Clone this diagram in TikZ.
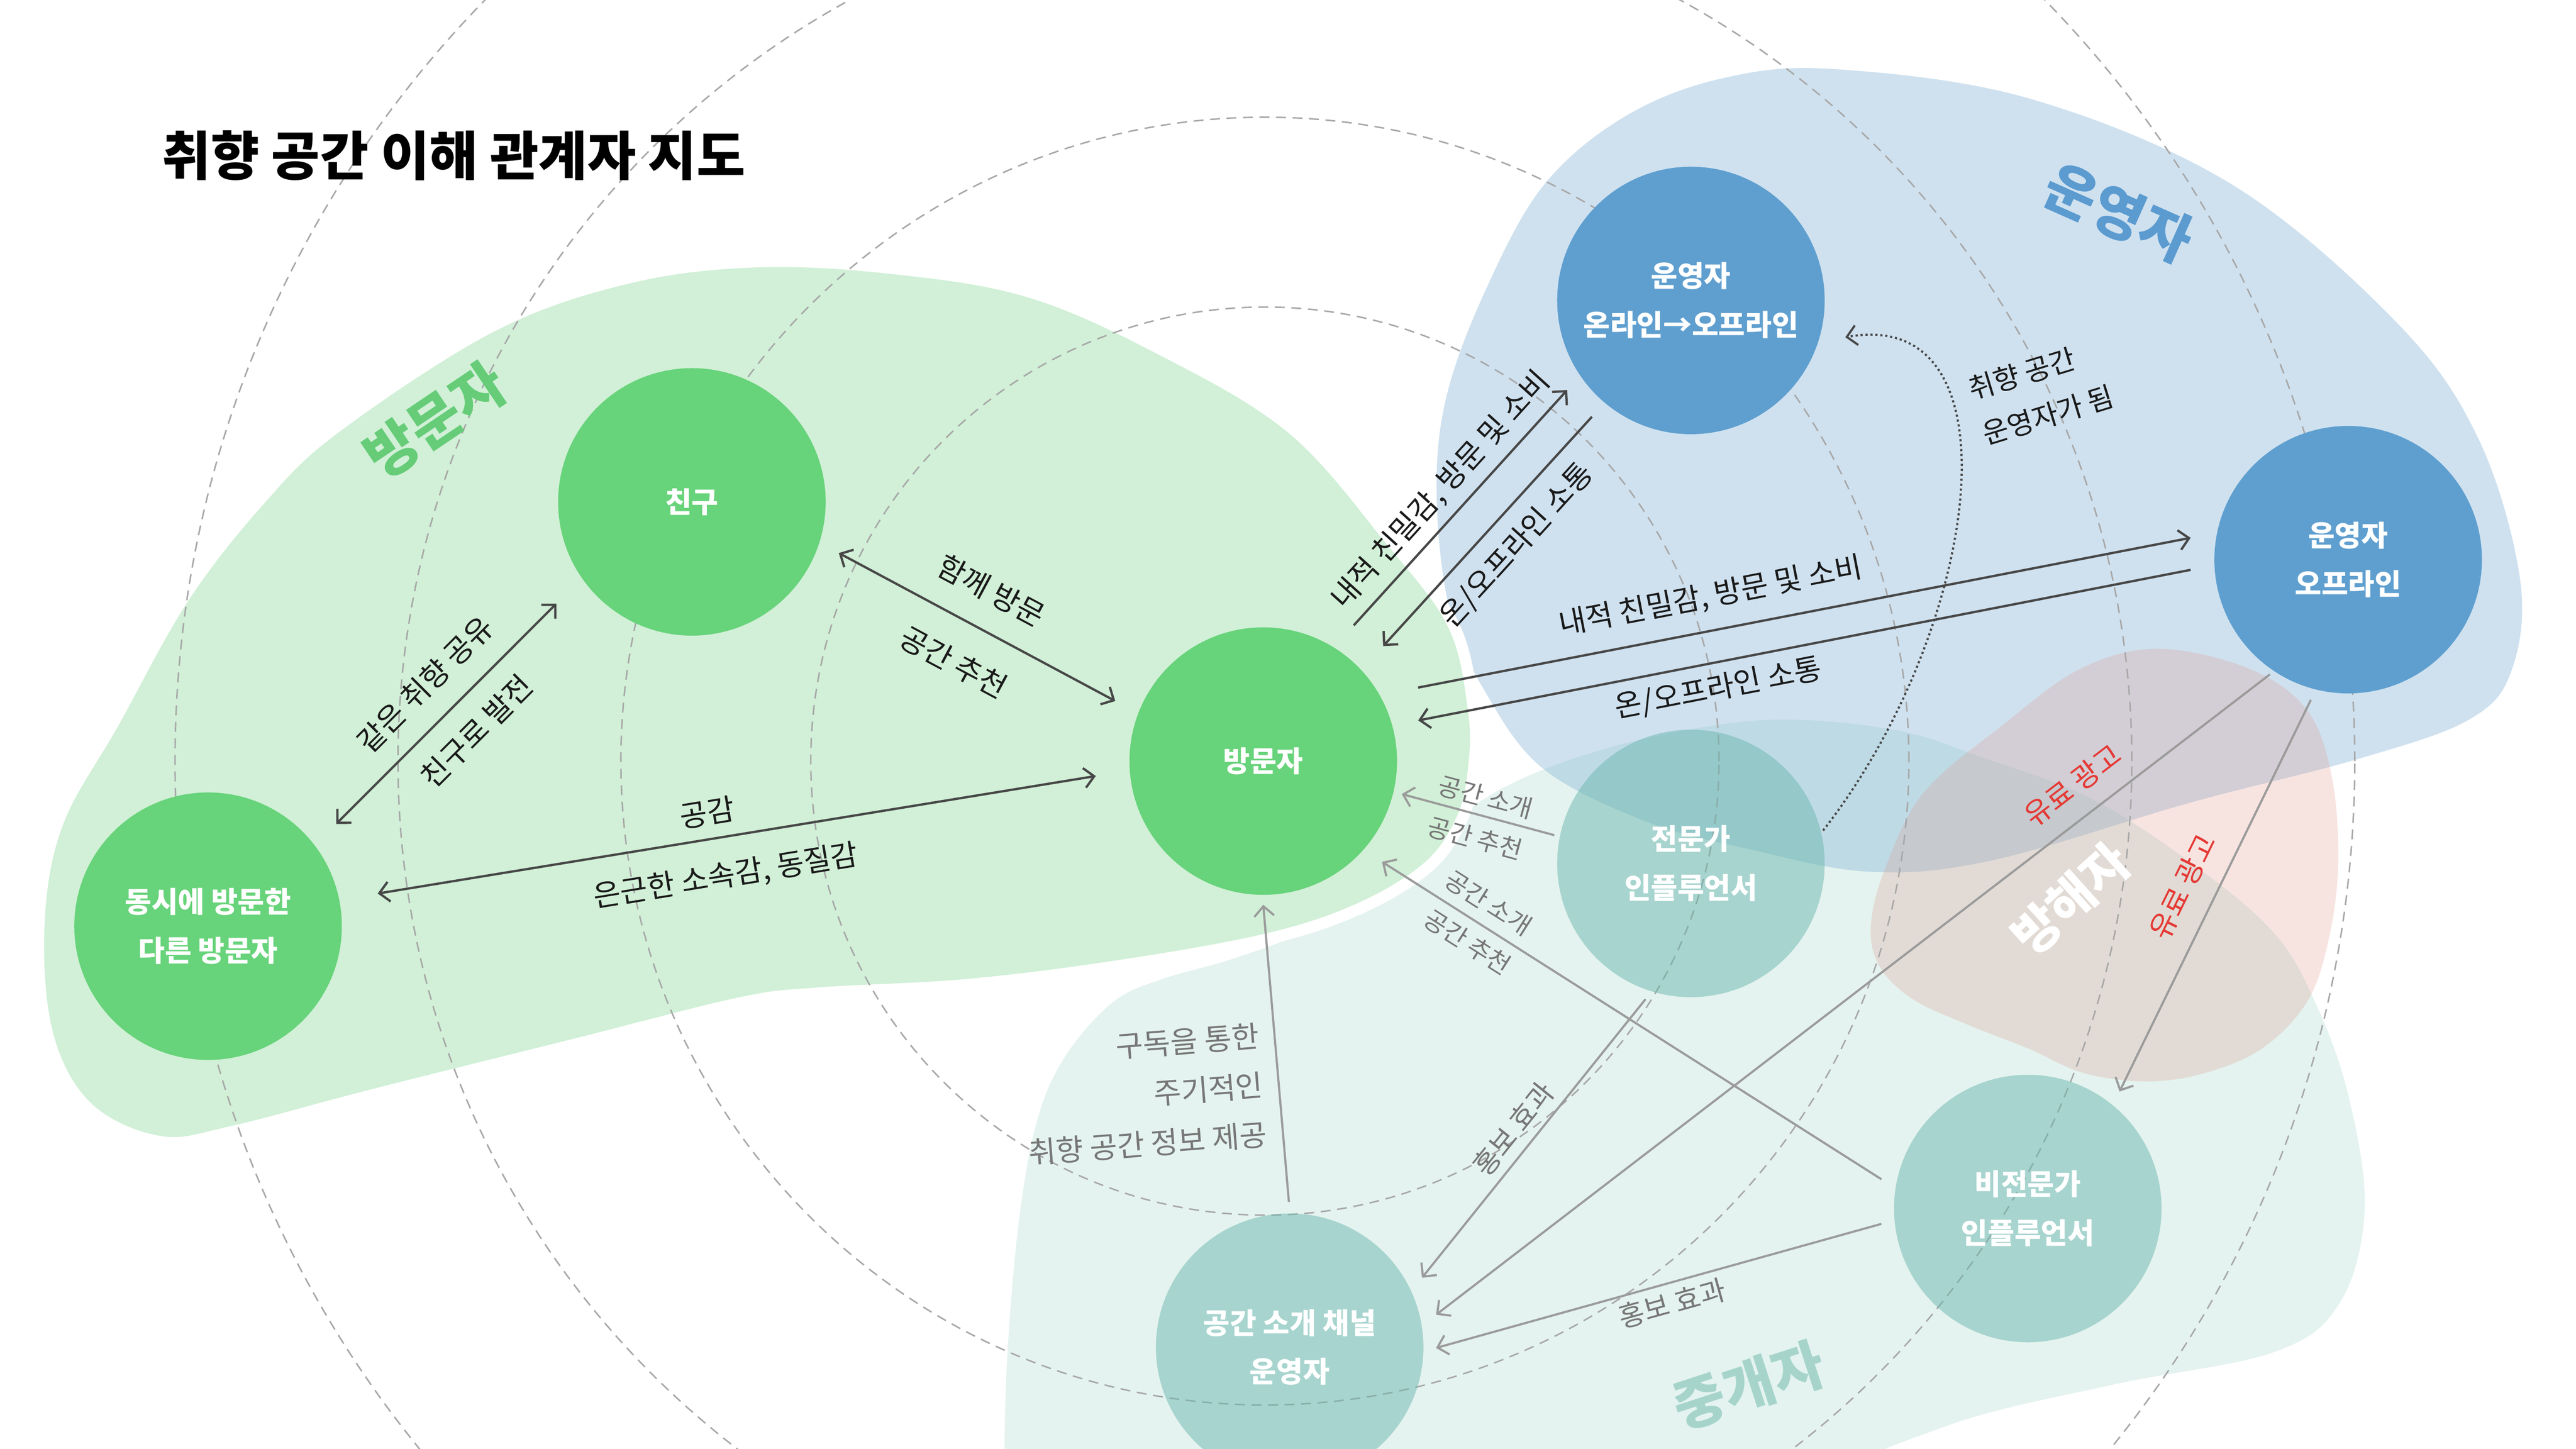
\documentclass[tikz,border=0pt]{standalone}
\usepackage{fontspec}
\setmainfont{Noto Sans CJK KR}
\usetikzlibrary{arrows.meta}
\definecolor{gblob}{HTML}{D1F0D7}
\definecolor{gnodec}{HTML}{67D37A}
\definecolor{bblob}{HTML}{87B6D7}
\definecolor{bnodec}{HTML}{5F9FCF}
\definecolor{tblob}{HTML}{E4F3EF}
\definecolor{tnodec}{HTML}{6CB7AF}
\definecolor{pblob}{HTML}{E0978B}
\definecolor{dashc}{HTML}{A8A8A8}
\definecolor{darkc}{HTML}{474747}
\definecolor{grayc}{HTML}{9B9B9B}
\definecolor{glabc}{HTML}{777777}
\definecolor{redc}{HTML}{E53935}
\definecolor{txtc}{HTML}{1A1A1A}
\definecolor{glabel}{HTML}{66CC78}
\definecolor{blabel}{HTML}{5B9BD0}
\definecolor{tlabel}{HTML}{A6D4CB}
\tikzset{
  >={Straight Barb[length=6pt,width=12pt]},
  circnode/.style={circle, minimum size=162pt, inner sep=0pt, outer sep=0pt,
    text=white, align=center, font=\bfseries\fontsize{17.5}{29.5}\selectfont},
  gnode/.style={circnode, fill=gnodec},
  bnode/.style={circnode, fill=bnodec},
  tnode/.style={circnode, fill=tnodec, fill opacity=0.5, text opacity=1},
  darkline/.style={draw=darkc, line width=1.4pt},
  grayline/.style={draw=grayc, line width=1.3pt},
  dotline/.style={draw=darkc, line width=1.3pt, dash pattern=on 1.3pt off 1.7pt},
  elabel/.style={font=\fontsize{18}{21}\selectfont, text=txtc, inner sep=0pt, sloped},
  glab/.style={font=\fontsize{15}{18}\selectfont, text=glabc, inner sep=0pt, sloped},
  hlab/.style={font=\fontsize{17}{20}\selectfont, text=glabc, inner sep=0pt, sloped},
  rlab/.style={font=\fontsize{17.5}{20}\selectfont, text=redc, inner sep=0pt, sloped},
  biglab/.style={font=\bfseries\fontsize{34}{40}\selectfont, inner sep=0pt},
  dashcirc/.style={draw=dashc, line width=0.9pt, dash pattern=on 6pt off 4pt}
}
\begin{document}
\begin{tikzpicture}[x=1pt,y=1pt]
\useasboundingbox (0,0) rectangle (1560,877.4);
\clip (0,0) rectangle (1560,877.4);
\fill[white] (0,0) rectangle (1560,877.4);
% blobs (screen coordinates)
\begin{scope}[yshift=877.4pt, yscale=-1]
\fill[tblob] plot[smooth cycle, tension=0.6] coordinates {(608,1000) (608,900) (610,822) (617,740) (628,679) (645,640) (674,607) (704,593) (749,580) (800,560) (850,528) (890,490) (935,466) (998,447) (1072,436) (1147,442) (1201,459) (1267,484) (1330,525) (1377,565) (1402,607) (1422,663) (1432,732) (1417,789) (1377,819) (1278,839) (1178,864) (1100,905) (1050,1000) (800,1050)};
\fill[bblob, fill opacity=0.4] plot[smooth cycle, tension=0.6] coordinates {(1113,42) (1230,60) (1352,112) (1452,196) (1501,266) (1526,350) (1521,406) (1495,436) (1427,460) (1327,486) (1207,521) (1132,528) (1058,514) (998,498) (935,466) (900,420) (878,370) (870,300) (876,240) (900,175) (935,112) (985,70) (1045,47)};
\path[fill=gblob, preaction={draw=white, line width=14pt}] plot[smooth cycle, tension=0.6] coordinates {(97,688) (55,668) (32,625) (27,560) (38,500) (72,439) (114,364) (160,305) (205,262) (299,201) (380,172) (458,162) (540,166) (622,180) (700,214) (780,262) (840,330) (877,380) (889,431) (889,465) (882,495) (862,523) (820,548) (764,566) (674,582) (585,593) (497,598) (448,604) (348,629) (224,660) (140,682)};
\fill[pblob, fill opacity=0.25] plot[smooth cycle, tension=0.6] coordinates {(1307,393) (1362,405) (1397,430) (1412,470) (1416,523) (1410,570) (1397,607) (1370,635) (1335,650) (1300,655) (1262,650) (1228,635) (1190,620) (1158,605) (1138,585) (1133,560) (1142,525) (1165,480) (1213,439) (1260,405)};
\end{scope}
% dashed concentric circles
\foreach \r in {275,390,525,660} {\draw[dashcirc] (766,416.4) circle[radius=\r pt];}
% nodes
\node[tnode] (E) at (1024,354.4) {전문가\\인플루언서};
\node[tnode] (NE) at (1228,145.4) {비전문가\\인플루언서};
\node[tnode] (C) at (781,61.4) {공간 소개 채널\\운영자};
\node[gnode] (F) at (419,573.4) {친구};
\node[gnode] (V) at (765,416.4) {방문자};
\node[gnode] (O) at (126,316.4) {동시에 방문한\\다른 방문자};
\node[bnode] (OP1) at (1024,695.4) {운영자\\온라인→오프라인};
\node[bnode] (OP2) at (1422,538.4) {운영자\\오프라인};
% big labels and title
\node[biglab, text=glabel, rotate=34] (labV) at (263.5,622.9) {방문자};
\node[biglab, text=blabel, rotate=-24] (labO) at (1283,748.4) {운영자};
\node[inner sep=0pt, text=white, rotate=42, font=\bfseries\fontsize{30}{34}\selectfont] (labB) at (1254,332.9) {방해자};
\node[biglab, text=tlabel, rotate=18] (labM) at (1059,38.4) {중개자};
\node[anchor=west, inner sep=0pt, font=\bfseries\fontsize{32}{38}\selectfont, text=black] (title) at (98,783.1) {취향 공간 이해 관계자 지도};
% connectors among visitors
\draw[darkline, <->] ([shift={(38.6:99.3pt)}]O.center) -- node[elabel, pos=0.519, above=13pt] (l1a) {같은 취향 공유} node[elabel, pos=0.529, below=11.5pt] (l1b) {친구로 발전} ([shift={(216.9:102.6pt)}]F.center);
\draw[darkline, <->] ([shift={(-19.2:94.2pt)}]F.center) -- node[elabel, pos=0.485, above=14.6pt] (l2a) {함께 방문} node[elabel, pos=0.487, below=16.5pt] (l2b) {공간 추천} ([shift={(157.9:96.7pt)}]V.center);
\draw[darkline, <->] ([shift={(10.9:104.6pt)}]O.center) -- node[elabel, pos=0.465, above=7.4pt] (l3a) {공감} node[elabel, pos=0.476, below=14pt] (l3b) {은근한 소속감, 동질감} ([shift={(185.1:101.8pt)}]V.center);
% visitor - operators
\draw[darkline, ->] ([shift={(56.3:98.8pt)}]V.center) -- node[elabel, pos=0.5, above=6.2pt] (l4) {내적 친밀감, 방문 및 소비} ([shift={(215.9:92.5pt)}]OP1.center);
\draw[darkline, ->] ([shift={(229.6:92.5pt)}]OP1.center) -- node[elabel, pos=0.47, below=9pt] (l5) {온/오프라인 소통} ([shift={(43.8:100.6pt)}]V.center);
\draw[darkline, ->] ([shift={(25.4:103.8pt)}]V.center) -- node[elabel, pos=0.387, above=10.6pt] (l6) {내적 친밀감, 방문 및 소비} ([shift={(172.1:96.3pt)}]OP2.center);
\draw[darkline, ->] ([shift={(183.7:95.6pt)}]OP2.center) -- node[elabel, pos=0.618, below=6pt] (l7) {온/오프라인 소통} ([shift={(14.7:97pt)}]V.center);
% dotted: expert becomes operator
\draw[dotline, ->] ([shift={(14:82.5pt)}]E.center) .. controls (1200,497.4) and (1225,692.4) .. ([shift={(-13.4:96.1pt)}]OP1.center);
\node[font=\fontsize{17}{28.6}\selectfont, text=txtc, inner sep=0pt, align=left, rotate=17] (l8) at (1236,639.7) {취향 공간\\운영자가 됨};
% mediators
\draw[grayline, ->] ([shift={(168.3:84.5pt)}]E.center) -- node[glab, pos=0.482, above=4pt] (l9a) {공간 소개} node[glab, pos=0.479, below=6.8pt] (l9b) {공간 추천} ([shift={(-13.4:86.2pt)}]V.center);
\draw[grayline, ->] ([shift={(168.7:90.4pt)}]NE.center) -- node[glab, pos=0.811, above=6.2pt] (l10a) {공간 소개} node[glab, pos=0.805, below=5.8pt] (l10b) {공간 추천} ([shift={(-40.3:94.3pt)}]V.center);
\draw[grayline, ->] ([shift={(251.5:86.7pt)}]E.center) -- node[hlab, pos=0.515, above=5pt] (l11) {홍보 효과} ([shift={(27.7:90.5pt)}]C.center);
\draw[grayline, ->] ([shift={(235.7:84.1pt)}]OP2.center) -- node[rlab, pos=0.213, above=11pt] (l12) {유료 광고} ([shift={(12.5:90.8pt)}]C.center);
\draw[grayline, ->] ([shift={(255.1:87.9pt)}]OP2.center) -- node[rlab, pos=0.514, above=11.7pt] (l13) {유료 광고} ([shift={(51.9:90pt)}]NE.center);
\draw[grayline, ->] ([shift={(186:89.2pt)}]NE.center) -- node[hlab, pos=0.482, below=3.8pt] (l14) {홍보 효과} ([shift={(-0.3:88.6pt)}]C.center);
\draw[grayline, ->] ([shift={(90.3:88pt)}]C.center) -- node[pos=0.394, left=9pt, rotate=4.5, align=right, inner sep=0pt, text=glabc, font=\fontsize{18}{30}\selectfont] (l15) {구독을 통한\\주기적인\\취향 공간 정보 제공} ([shift={(270:87pt)}]V.center);
\end{tikzpicture}
\end{document}
